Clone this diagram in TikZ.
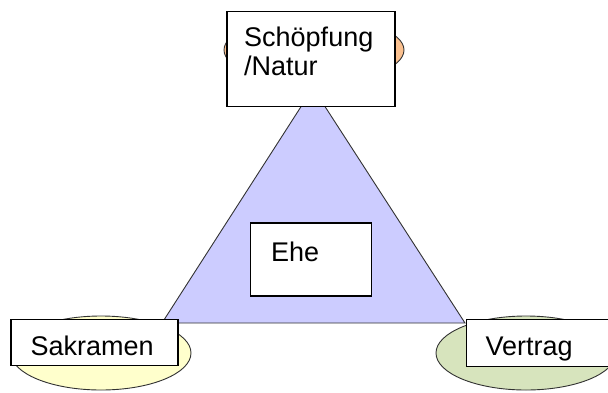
\documentclass[tikz,border=0pt]{standalone}
\usepackage{fontspec}
\setmainfont{Liberation Sans}
\definecolor{tri}{RGB}{204,204,255}
\definecolor{orng}{RGB}{250,192,143}
\definecolor{yell}{RGB}{255,255,204}
\definecolor{grn}{RGB}{215,228,189}
\definecolor{edge}{RGB}{50,50,50}
\begin{document}
\begin{tikzpicture}[x=1pt,y=-1pt,
  blob/.style={draw=edge,line width=0.9pt},
  box/.style={draw=black,line width=1.2pt,fill=white,rectangle,inner sep=0pt},
  lbl/.style={inner sep=0pt,anchor=base west,font=\fontsize{27}{28.3}\selectfont}]
\useasboundingbox (0,0) rectangle (608,392);
\clip (0,0) rectangle (608,392);
% ellipses
\draw[blob,fill=orng] (314,50) ellipse [x radius=90,y radius=33];
\draw[blob,fill=yell] (101,353) ellipse [x radius=90,y radius=37];
\draw[blob,fill=grn] (526,353) ellipse [x radius=90,y radius=37];
% triangle
\coordinate (apex) at (313,88);
\coordinate (bl) at (162,323);
\coordinate (br) at (465,323);
\draw[edge,line width=0.9pt,fill=tri,line join=miter] (apex) -- (bl) -- (br) -- cycle;
% boxes
\node[box,minimum width=168pt,minimum height=95pt] (schbox) at (311,59.3) {};
\node[box,minimum width=121pt,minimum height=73pt] (ehebox) at (311.2,259.5) {};
\node[box,minimum width=167pt,minimum height=46pt] (sakbox) at (94.5,342.4) {};
\node[box,minimum width=180pt,minimum height=47.4pt] (verbox) at (556.7,343) {};
% labels
\node[lbl] (sch1) at (244,46.7) {Schöpfung};
\node[lbl] (sch2) at (244,75) {/Natur};
\node[lbl] (ehe) at (271,261.7) {Ehe};
\node[lbl] (sak) at (30.5,355) {Sakramen};
\node[lbl] (ver) at (485.5,355) {Vertrag};
\end{tikzpicture}
\end{document}
